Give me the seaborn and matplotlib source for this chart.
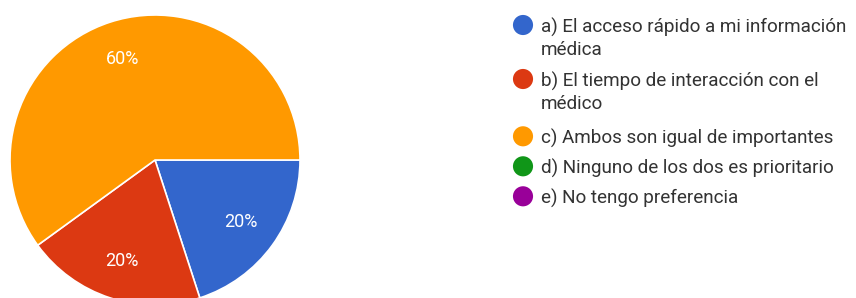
import matplotlib
matplotlib.use("Agg")
import matplotlib.pyplot as plt
import seaborn as sns

# Datos
respuestas = [
    ["a) El acceso rápido a mi información", "médica"],
    ["b) El tiempo de interacción con el", "médico"],
    ["c) Ambos son igual de importantes"],
    ["d) Ninguno de los dos es prioritario"],
    ["e) No tengo preferencia"],
]
porcentajes = [20, 20, 60, 0, 0]
colores = ["#3366CC", "#DC3912", "#FF9900", "#109618", "#990099"]

sns.set_theme(style="white")
plt.rcParams["font.family"] = ["Roboto", "DejaVu Sans"]

W, H = 856, 298
fig = plt.figure(figsize=(W / 100, H / 100), dpi=100)

# pie: centro (155,160) px, radio 145 px
cx, cy, r = 155, 160, 145
ax = fig.add_axes([(cx - r) / W, (H - cy - r) / H, 2 * r / W, 2 * r / H])

valores = [v for v in porcentajes if v > 0]
cols = [c for c, v in zip(colores, porcentajes) if v > 0]
wedges, texts, autotexts = ax.pie(
    valores, colors=cols, startangle=0, counterclock=False,
    autopct="%1.0f%%", pctdistance=0.73,
    wedgeprops=dict(edgecolor="white", linewidth=1.2),
    textprops=dict(color="white", fontsize=13),
)
ax.set_xlim(-1, 1)
ax.set_ylim(-1, 1)
ax.set_aspect("equal")

# leyenda dibujada en coordenadas de píxel
lg = fig.add_axes([0, 0, 1, 1], zorder=-1)
lg.set_xlim(0, W)
lg.set_ylim(H, 0)
lg.axis("off")

base_y = [32.7, 86.7, 144, 174, 204]   # línea base de cada entrada
interlinea = 22.6
for lineas, col, y in zip(respuestas, colores, base_y):
    lg.scatter([523], [y - 7.7], s=210, color=col, edgecolor="none")
    for i, linea in enumerate(lineas):
        lg.text(541, y + i * interlinea, linea, fontsize=13.6,
                color="#333333", va="baseline", ha="left")

fig.savefig("out.png", dpi=100)
